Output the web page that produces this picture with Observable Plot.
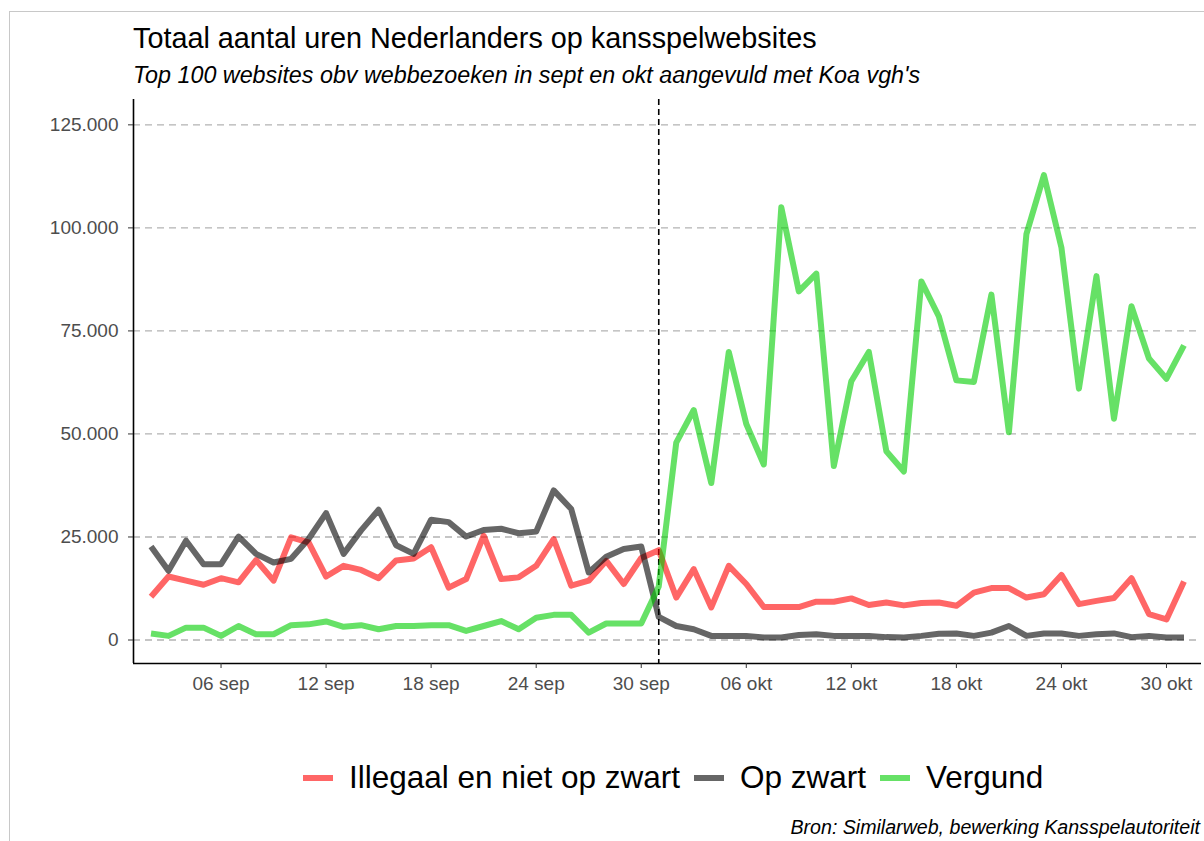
<!DOCTYPE html>
<html>
<head>
<meta charset="utf-8">
<script src="https://cdn.jsdelivr.net/npm/d3@7"></script>
<script src="https://cdn.jsdelivr.net/npm/@observablehq/plot@0.6"></script>
<style>
  body { margin:0; background:#fff; width:1204px; height:841px; position:relative; overflow:hidden;
         font-family:"Liberation Sans", Arial, sans-serif; }
  .frame { position:absolute; left:9px; top:11px; width:1300px; height:900px;
           border-top:1px solid #c8c8c8; border-left:1px solid #c8c8c8; }
  #title { position:absolute; left:133px; top:23.5px; font-size:28.8px; line-height:1; color:#000; white-space:nowrap; }
  #subtitle { position:absolute; left:133px; top:64px; font-size:23.3px; line-height:1; font-style:italic; color:#000; white-space:nowrap; }
  #chart { position:absolute; left:0; top:90px; }
  #legend { position:absolute; left:303px; top:762px; height:31px; display:flex; align-items:center; white-space:nowrap; }
  #legend .sw { display:inline-block; width:30px; height:6px; margin-right:16px; }
  #legend .lb { font-size:31.5px; line-height:1; color:#000; margin-right:14px; }
  #caption { position:absolute; right:4px; top:818px; font-size:19.6px; line-height:1; font-style:italic; color:#000; white-space:nowrap; }
</style>
</head>
<body>
<div class="frame"></div>
<div id="title">Totaal aantal uren Nederlanders op kansspelwebsites</div>
<div id="subtitle">Top 100 websites obv webbezoeken in sept en okt aangevuld met Koa vgh's</div>
<div id="chart"></div>
<div id="legend"></div>
<div id="caption">Bron: Similarweb, bewerking Kansspelautoriteit</div>
<script>
// ---- data (daily, 2 sep – 31 okt) ----
const firstDay = "2021-09-02";
const lastDay = "2021-10-31";
const koaDay = "2021-10-01";

const seriesNames = ["Illegaal en niet op zwart", "Op zwart", "Vergund"];
const seriesColors = ["#ff0000", "#000000", "#00cd00"];

const illegaal = [
  10500, 15400, 14400, 13400, 15000, 14000, 19400, 14400, 24900, 23700,
  15400, 18000, 17000, 15000, 19300, 19800, 22500, 12700, 14800, 25300,
  14800, 15200, 18000, 24500, 13200, 14400, 19200, 13600, 19900,
  21800, 10300, 17200, 7900, 18000, 13600, 8000, 8000, 8000, 9300,
  9300, 10100, 8500, 9100, 8400, 9000, 9100, 8300, 11500, 12600,
  12600, 10300, 11100, 15800, 8700, 9500, 10200, 15000, 6300, 5000, 14200
];
const opZwart = [
  22700, 16800, 24100, 18400, 18400, 25100, 20900, 18800, 19700, 24500,
  30800, 20900, 26600, 31600, 23000, 20900, 29200, 28600, 25100, 26700,
  27000, 25900, 26300, 36300, 31800, 16400, 20200, 22100, 22700,
  5600, 3400, 2600, 1000, 1000, 1000, 600, 600, 1200, 1400,
  1000, 1000, 1000, 700, 600, 1000, 1500, 1600, 1000, 1800,
  3400, 1000, 1600, 1600, 1000, 1400, 1600, 700, 1000, 600, 600
];
const vergund = [
  1600, 1000, 3000, 3000, 1000, 3400, 1400, 1400, 3600, 3800,
  4500, 3200, 3600, 2600, 3400, 3400, 3600, 3600, 2200, 3400,
  4600, 2600, 5400, 6100, 6100, 1800, 4000, 4000, 4000,
  13000, 47900, 55800, 38100, 69900, 52400, 42600, 105000, 84600, 88900,
  42200, 62800, 69900, 45800, 40900, 87000, 78500, 63000, 62600, 83800,
  50400, 98500, 112800, 95200, 61000, 88300, 53700, 81000, 68300, 63400, 71500
];

const yTicks = [0, 25000, 50000, 75000, 100000, 125000];
const xTickDays = ["2021-09-06","2021-09-12","2021-09-18","2021-09-24","2021-09-30",
                   "2021-10-06","2021-10-12","2021-10-18","2021-10-24","2021-10-30"];
const monthNames = ["jan","feb","mrt","apr","mei","jun","jul","aug","sep","okt","nov","dec"];

// ---- build ----
const parse = d3.utcParse("%Y-%m-%d");
const dates = d3.utcDays(parse(firstDay), d3.utcDay.offset(parse(lastDay), 1));
const xDomain = [d3.utcDay.offset(parse(firstDay), -1), d3.utcDay.offset(parse(lastDay), 1)];
const yDomain = [-5700, 131150];
const xTicks = xTickDays.map(parse);

const seriesValues = [illegaal, opZwart, vergund];
const rows = seriesNames.flatMap((name, k) =>
  seriesValues[k].map((v, i) => ({date: dates[i], value: v, serie: name})));

const fmtY = d => d3.format(",")(d).replace(/,/g, ".");
const fmtX = d => `${d3.utcFormat("%d")(d)} ${monthNames[d.getUTCMonth()]}`;

const chart = Plot.plot({
  width: 1204,
  height: 620,
  marginLeft: 133,
  marginRight: 3,
  marginTop: 9,
  marginBottom: 47,
  style: {fontFamily: '"Liberation Sans", Arial, sans-serif', fontSize: "19px", color: "#4d4d4d", background: "transparent"},
  x: {type: "utc", domain: xDomain},
  y: {domain: yDomain},
  color: {domain: seriesNames, range: seriesColors},
  marks: [
    Plot.gridY(yTicks, {stroke: "#b3b3b3", strokeOpacity: 1, strokeWidth: 1.3, strokeDasharray: "7,5"}),
    Plot.ruleX([parse(koaDay)], {stroke: "#000", strokeWidth: 1.6, strokeDasharray: "6,4"}),
    Plot.lineY(rows, {x: "date", y: "value", z: "serie", stroke: "serie", strokeWidth: 6,
                      strokeOpacity: 0.6, strokeLinecap: "butt", strokeLinejoin: "round"}),
    Plot.ruleX([xDomain[0]], {stroke: "#000", strokeWidth: 1.6}),
    Plot.ruleY([yDomain[0]], {stroke: "#000", strokeWidth: 1.6}),
    Plot.axisY(yTicks, {tickFormat: fmtY, tickSize: 5, tickPadding: 10, stroke: "#333", fill: "#4d4d4d", fontSize: 19, label: null}),
    Plot.axisX(xTicks, {tickFormat: fmtX, tickSize: 5, tickPadding: 8, stroke: "#333", fill: "#4d4d4d", fontSize: 19, label: null})
  ]
});
document.getElementById("chart").appendChild(chart);

// legend
const legend = document.getElementById("legend");
seriesNames.forEach((name, k) => {
  const sw = document.createElement("span");
  sw.className = "sw";
  sw.style.background = seriesColors[k];
  sw.style.opacity = 0.6;
  const lb = document.createElement("span");
  lb.className = "lb";
  lb.textContent = name;
  legend.appendChild(sw);
  legend.appendChild(lb);
});
</script>
</body>
</html>
